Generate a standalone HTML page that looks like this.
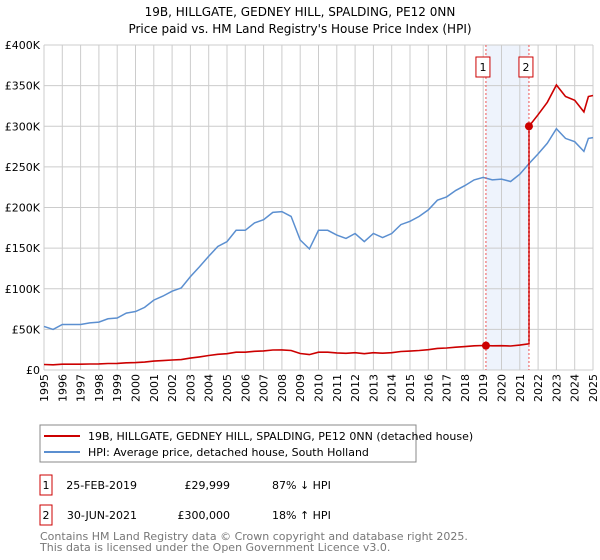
<!DOCTYPE html>
<html><head><meta charset="utf-8"><style>
body{margin:0;background:#fff;font-family:"DejaVu Sans","Liberation Sans",sans-serif;}
#wrap{position:relative;width:600px;height:560px;overflow:hidden}
</style></head><body><div id="wrap">
<svg id="chart" width="600" height="560" xmlns="http://www.w3.org/2000/svg" font-family="DejaVu Sans, Liberation Sans, sans-serif">
<text x="300" y="16" text-anchor="middle" font-size="12">19B, HILLGATE, GEDNEY HILL, SPALDING, PE12 0NN</text>
<text x="300" y="33" text-anchor="middle" font-size="12">Price paid vs. HM Land Registry's House Price Index (HPI)</text>
<g id="plot"></g>
<rect x="40" y="425" width="376" height="37" fill="#fff" stroke="#888"/>
<line x1="44" y1="436" x2="80" y2="436" stroke="#cc0000" stroke-width="2"/>
<text x="88" y="440" font-size="11">19B, HILLGATE, GEDNEY HILL, SPALDING, PE12 0NN (detached house)</text>
<line x1="44" y1="452" x2="80" y2="452" stroke="#5b8fd0" stroke-width="2"/>
<text x="88" y="456" font-size="11">HPI: Average price, detached house, South Holland</text>
<g font-size="11">
<rect x="40" y="475" width="12" height="20" fill="#fff" stroke="#cc0000"/>
<text x="46" y="489" text-anchor="middle">1</text>
<text x="137" y="489" text-anchor="end">25-FEB-2019</text>
<text x="230" y="489" text-anchor="end">£29,999</text>
<text x="272" y="489">87% ↓ HPI</text>
<rect x="40" y="505" width="12" height="20" fill="#fff" stroke="#cc0000"/>
<text x="46" y="519" text-anchor="middle">2</text>
<text x="137" y="519" text-anchor="end">30-JUN-2021</text>
<text x="230" y="519" text-anchor="end">£300,000</text>
<text x="272" y="519">18% ↑ HPI</text>
</g>
<text x="40" y="540" font-size="11" fill="#777">Contains HM Land Registry data © Crown copyright and database right 2025.</text>
<text x="40" y="551" font-size="11" fill="#777">This data is licensed under the Open Government Licence v3.0.</text>
</svg></div>
<script>
const hpiYears=[1995,1995.5,1996,1997,1997.5,1998,1998.5,1999,1999.5,2000,2000.5,2001,2001.5,2002,2002.5,2003,2003.5,2004,2004.5,2005,2005.5,2006,2006.5,2007,2007.5,2008,2008.5,2009,2009.5,2010,2010.5,2011,2011.5,2012,2012.5,2013,2013.5,2014,2014.5,2015,2015.5,2016,2016.5,2017,2017.5,2018,2018.5,2019,2019.5,2020,2020.5,2021,2021.5,2022,2022.5,2023,2023.5,2024,2024.5,2024.75,2025];
const hpiValues=[53.6,50,56,56,58,59,63,64,70,72,77,86,91,97,101,115,127,140,152,158,172,172,181,185,194,195,189,160,149,172,172,166,162,168,158,168,163,168,179,183,189,197,209,213,221,227,234,237,234,235,232,241,254,266,279,297,285,281,269,285,286];
const saleYears=[2019.15,2021.5];
const salePrices=[29.999,300];
const yTicks=[0,50,100,150,200,250,300,350,400];
const yTickLabels=["£0","£50K","£100K","£150K","£200K","£250K","£300K","£350K","£400K"];
const xTicks=[1995,1996,1997,1998,1999,2000,2001,2002,2003,2004,2005,2006,2007,2008,2009,2010,2011,2012,2013,2014,2015,2016,2017,2018,2019,2020,2021,2022,2023,2024,2025];

const X0=44,X1=593,Y0=370,Y1=45;
const xs=y=>X0+(y-1995)/30*(X1-X0);
const ys=v=>Y0-v/400*(Y0-Y1);
const NS="http://www.w3.org/2000/svg";
const g=document.getElementById('plot');
function mk(t,a){const e=document.createElementNS(NS,t);for(const k in a)e.setAttribute(k,a[k]);g.appendChild(e);return e;}

let e=mk('rect',{x:xs(saleYears[0]),y:Y1,width:xs(saleYears[1])-xs(saleYears[0]),height:Y0-Y1,fill:'#eef3fc'});


xTicks.forEach((t,i)=>{
 let l=mk('line',{x1:xs(t),x2:xs(t),y1:Y1,y2:Y0,stroke:'#ccc','stroke-width':1});
 
 
 const ax=xs(t)+4, ay=Y0+4;
 let tx=mk('text',{x:ax,y:ay,'font-size':11,'text-anchor':'end',transform:'rotate(-90 '+ax+' '+ay+')'});
 tx.textContent=t;
 
 
});
yTicks.forEach((t,i)=>{
 let l=mk('line',{x1:X0,x2:X1,y1:ys(t),y2:ys(t),stroke:'#ccc','stroke-width':1});
 
 
 let tx=mk('text',{x:X0-4,y:ys(t)+4,'font-size':11,'text-anchor':'end'});
 tx.textContent=yTickLabels[i];
 
 
});
let d=hpiYears.map((y,i)=>(i?'L':'M')+xs(y).toFixed(1)+','+ys(hpiValues[i]).toFixed(1)).join('');
e=mk('path',{d:d,fill:'none',stroke:'#5b8fd0','stroke-width':1.5});


function hpiAt(y){for(let i=1;i<hpiYears.length;i++){if(y<=hpiYears[i]){const f=(y-hpiYears[i-1])/(hpiYears[i]-hpiYears[i-1]);return hpiValues[i-1]+f*(hpiValues[i]-hpiValues[i-1]);}}return hpiValues[hpiValues.length-1];}
const pts=[];
const r0=salePrices[0]/hpiAt(saleYears[0]),r1=salePrices[1]/hpiAt(saleYears[1]);
hpiYears.forEach((y,i)=>{if(y<saleYears[1])pts.push([y,r0*hpiValues[i]]);});
pts.push([saleYears[1],r0*hpiAt(saleYears[1])]);
pts.push([saleYears[1],salePrices[1]]);
hpiYears.forEach((y,i)=>{if(y>saleYears[1])pts.push([y,r1*hpiValues[i]]);});
d=pts.map((p,i)=>(i?'L':'M')+xs(p[0]).toFixed(1)+','+ys(p[1]).toFixed(1)).join('');
e=mk('path',{d:d,fill:'none',stroke:'#cc0000','stroke-width':1.6});


saleYears.forEach((y,i)=>{
 let l=mk('line',{x1:xs(y),x2:xs(y),y1:Y1,y2:Y0,stroke:'#e55','stroke-width':1,'stroke-dasharray':'2,2'});
 
 
 let b=mk('rect',{x:xs(y)-10,y:57,width:14,height:20,fill:'#fff',stroke:'#cc0000'});
 
 
 let t=mk('text',{x:xs(y)-3,y:71,'font-size':11,'text-anchor':'middle'});
 t.textContent=String(i+1);
 
 
 let c=mk('circle',{cx:xs(y),cy:ys(salePrices[i]),r:4,fill:'#cc0000'});
 
 
});
</script></body></html>
